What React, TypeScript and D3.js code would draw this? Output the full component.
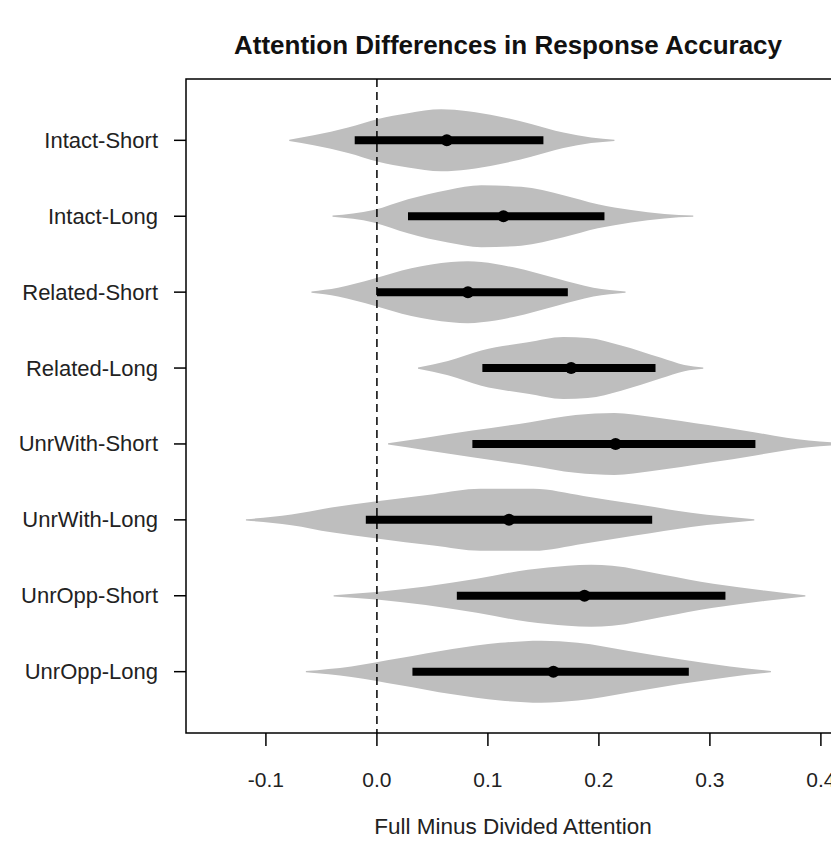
import React from "react";
import * as d3 from "d3";

const categories = [
  "Intact-Short",
  "Intact-Long",
  "Related-Short",
  "Related-Long",
  "UnrWith-Short",
  "UnrWith-Long",
  "UnrOpp-Short",
  "UnrOpp-Long",
];

// posterior point estimates
const means = [0.063, 0.114, 0.082, 0.175, 0.215, 0.119, 0.187, 0.159];
// interval lower / upper bounds
const ciLow = [-0.02, 0.028, 0.0, 0.095, 0.086, -0.01, 0.072, 0.032];
const ciHigh = [0.15, 0.205, 0.172, 0.251, 0.341, 0.248, 0.314, 0.281];

// density outlines: [value, relative width]
const densities: [number, number][][] = [
  [[-0.079, 0.02], [-0.057, 0.16], [-0.026, 0.41], [0.001, 0.69], [0.028, 0.875], [0.058, 1.0], [0.082, 0.94], [0.109, 0.78], [0.139, 0.53], [0.168, 0.25], [0.193, 0.09], [0.214, 0.02]],
  [[-0.04, 0.02], [-0.003, 0.2], [0.028, 0.55], [0.064, 0.85], [0.094, 1.0], [0.13, 0.95], [0.168, 0.68], [0.199, 0.39], [0.229, 0.2], [0.259, 0.07], [0.285, 0.02]],
  [[-0.059, 0.02], [-0.035, 0.14], [-0.003, 0.43], [0.031, 0.77], [0.067, 0.97], [0.082, 1.0], [0.094, 0.97], [0.123, 0.8], [0.163, 0.43], [0.195, 0.14], [0.224, 0.02]],
  [[0.037, 0.02], [0.064, 0.23], [0.094, 0.57], [0.136, 0.83], [0.168, 1.0], [0.19, 0.97], [0.22, 0.73], [0.256, 0.33], [0.277, 0.1], [0.294, 0.02]],
  [[0.01, 0.02], [0.044, 0.2], [0.086, 0.43], [0.138, 0.7], [0.179, 0.93], [0.214, 1.0], [0.248, 0.87], [0.3, 0.6], [0.341, 0.37], [0.369, 0.2], [0.41, 0.05], [0.427, 0.02]],
  [[-0.118, 0.02], [-0.077, 0.17], [-0.041, 0.4], [0.0, 0.6], [0.051, 0.83], [0.093, 1.0], [0.141, 1.0], [0.186, 0.77], [0.234, 0.5], [0.283, 0.23], [0.34, 0.02]],
  [[-0.039, 0.02], [0.002, 0.13], [0.044, 0.3], [0.09, 0.55], [0.136, 0.84], [0.172, 0.97], [0.193, 1.0], [0.212, 0.97], [0.258, 0.68], [0.303, 0.39], [0.349, 0.17], [0.386, 0.02]],
  [[-0.064, 0.02], [-0.023, 0.17], [0.02, 0.43], [0.068, 0.73], [0.111, 0.93], [0.148, 1.0], [0.181, 0.93], [0.227, 0.67], [0.273, 0.4], [0.318, 0.17], [0.355, 0.02]],
];

const xTicks = [-0.1, 0.0, 0.1, 0.2, 0.3, 0.4];
const xTickLabels = ["-0.1", "0.0", "0.1", "0.2", "0.3", "0.4"];
const title = "Attention Differences in Response Accuracy";
const xTitle = "Full Minus Divided Attention";

const W = 831;
const H = 841;
const left = 186;
const right = 832;
const top = 79;
const bottom = 733;

export default function App() {
  const x = d3.scaleLinear().domain([-0.172, 0.41]).range([left, right]);
  const y = d3.scalePoint<string>().domain(categories).range([top, bottom]).padding(0.808);
  const hw = d3.scaleLinear().domain([0, 1]).range([0, 31]);
  const font = "'Liberation Sans', Arial, sans-serif";

  return (
    <svg width={W} height={H} style={{ position: "absolute", left: 0, top: 0, background: "#fff" }}>
      <defs>
        <clipPath id="plotclip">
          <rect x={left} y={top} width={right - left} height={bottom - top} />
        </clipPath>
      </defs>
      <g clipPath="url(#plotclip)">
        {categories.map((c, i) => {
          const cy = y(c)!;
          const area = d3
            .area<[number, number]>()
            .x((d) => x(d[0]))
            .y0((d) => cy - hw(d[1]))
            .y1((d) => cy + hw(d[1]))
            .curve(d3.curveMonotoneX);
          return <path key={c} d={area(densities[i]) || ""} fill="#bebebe" />;
        })}
        <line x1={x(0)} x2={x(0)} y1={top} y2={bottom} stroke="#000" strokeWidth={1.5} strokeDasharray="8,5" />
        {categories.map((c, i) => {
          const cy = y(c)!;
          return (
            <g key={c}>
              <line x1={x(ciLow[i])} x2={x(ciHigh[i])} y1={cy} y2={cy} stroke="#000" strokeWidth={8} />
              <circle cx={x(means[i])} cy={cy} r={6} fill="#000" />
            </g>
          );
        })}
      </g>
      <rect x={left} y={top} width={right - left} height={bottom - top} fill="none" stroke="#000" strokeWidth={1.5} />
      {categories.map((c) => (
        <g key={c}>
          <line x1={left - 12} x2={left} y1={y(c)} y2={y(c)} stroke="#000" strokeWidth={1.5} />
          <text x={158} y={y(c)! + 7.5} textAnchor="end" fontFamily={font} fontSize={22} fill="#222">
            {c}
          </text>
        </g>
      ))}
      {xTicks.map((t, i) => (
        <g key={t}>
          <line x1={x(t)} x2={x(t)} y1={bottom} y2={bottom + 13} stroke="#000" strokeWidth={1.5} />
          <text x={x(t)} y={787} textAnchor="middle" fontFamily={font} fontSize={21} fill="#222">
            {xTickLabels[i]}
          </text>
        </g>
      ))}
      <text x={513} y={834} textAnchor="middle" fontFamily={font} fontSize={22.5} fill="#222">
        {xTitle}
      </text>
      <text x={508} y={54} textAnchor="middle" fontFamily={font} fontSize={26} fontWeight="bold" fill="#111">
        {title}
      </text>
    </svg>
  );
}
